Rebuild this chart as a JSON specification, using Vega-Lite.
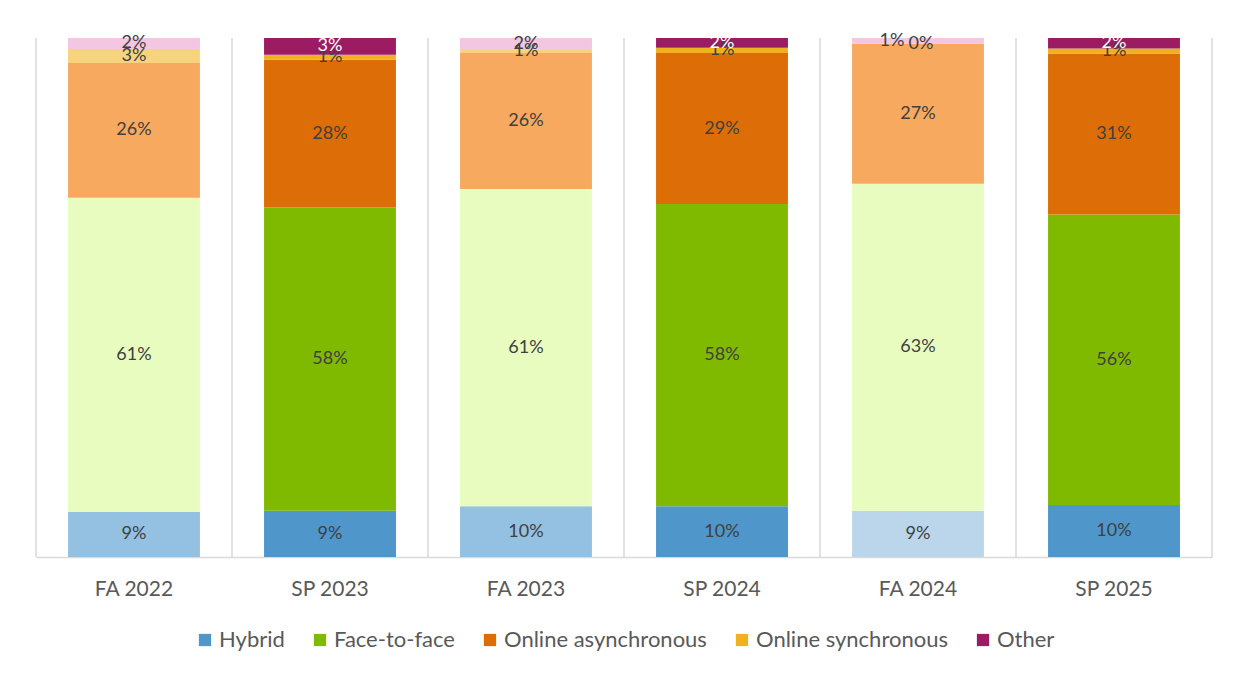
{
  "$schema": "https://vega.github.io/schema/vega-lite/v6.json",
  "width": 1176,
  "height": 519,
  "padding": {"left": 35, "top": 31, "right": 5, "bottom": 5},
  "background": "white",
  "config": {"view": {"stroke": null}, "font": "Lato"},
  "datasets": {
    "shares": [
      {"Term": "FA 2022", "Type": "Hybrid", "Rank": 1, "Shade": "light", "Value": 8.7},
      {"Term": "FA 2022", "Type": "Face-to-face", "Rank": 2, "Shade": "light", "Value": 60.5},
      {"Term": "FA 2022", "Type": "Online asynchronous", "Rank": 3, "Shade": "light", "Value": 26.0},
      {"Term": "FA 2022", "Type": "Online synchronous", "Rank": 4, "Shade": "light", "Value": 2.7},
      {"Term": "FA 2022", "Type": "Other", "Rank": 5, "Shade": "light", "Value": 2.1},
      {"Term": "SP 2023", "Type": "Hybrid", "Rank": 1, "Shade": "dark", "Value": 8.9},
      {"Term": "SP 2023", "Type": "Face-to-face", "Rank": 2, "Shade": "dark", "Value": 58.3},
      {"Term": "SP 2023", "Type": "Online asynchronous", "Rank": 3, "Shade": "dark", "Value": 28.4},
      {"Term": "SP 2023", "Type": "Online synchronous", "Rank": 4, "Shade": "dark", "Value": 1.0},
      {"Term": "SP 2023", "Type": "Other", "Rank": 5, "Shade": "dark", "Value": 3.2},
      {"Term": "FA 2023", "Type": "Hybrid", "Rank": 1, "Shade": "light", "Value": 9.8},
      {"Term": "FA 2023", "Type": "Face-to-face", "Rank": 2, "Shade": "light", "Value": 61.1},
      {"Term": "FA 2023", "Type": "Online asynchronous", "Rank": 3, "Shade": "light", "Value": 26.2},
      {"Term": "FA 2023", "Type": "Online synchronous", "Rank": 4, "Shade": "light", "Value": 0.6},
      {"Term": "FA 2023", "Type": "Other", "Rank": 5, "Shade": "light", "Value": 2.3},
      {"Term": "SP 2024", "Type": "Hybrid", "Rank": 1, "Shade": "dark", "Value": 9.8},
      {"Term": "SP 2024", "Type": "Face-to-face", "Rank": 2, "Shade": "dark", "Value": 58.2},
      {"Term": "SP 2024", "Type": "Online asynchronous", "Rank": 3, "Shade": "dark", "Value": 29.1},
      {"Term": "SP 2024", "Type": "Online synchronous", "Rank": 4, "Shade": "dark", "Value": 1.0},
      {"Term": "SP 2024", "Type": "Other", "Rank": 5, "Shade": "dark", "Value": 1.9},
      {"Term": "FA 2024", "Type": "Hybrid", "Rank": 1, "Shade": "lighter", "Value": 8.9},
      {"Term": "FA 2024", "Type": "Face-to-face", "Rank": 2, "Shade": "light", "Value": 63.0},
      {"Term": "FA 2024", "Type": "Online asynchronous", "Rank": 3, "Shade": "light", "Value": 27.0},
      {"Term": "FA 2024", "Type": "Online synchronous", "Rank": 4, "Shade": "light", "Value": 0.0},
      {"Term": "FA 2024", "Type": "Other", "Rank": 5, "Shade": "light", "Value": 1.1},
      {"Term": "SP 2025", "Type": "Hybrid", "Rank": 1, "Shade": "dark", "Value": 10.0},
      {"Term": "SP 2025", "Type": "Face-to-face", "Rank": 2, "Shade": "dark", "Value": 56.0},
      {"Term": "SP 2025", "Type": "Online asynchronous", "Rank": 3, "Shade": "dark", "Value": 31.0},
      {"Term": "SP 2025", "Type": "Online synchronous", "Rank": 4, "Shade": "dark", "Value": 1.0},
      {"Term": "SP 2025", "Type": "Other", "Rank": 5, "Shade": "dark", "Value": 2.0}
    ],
    "boundaries": [
      {"Boundary": 0}, {"Boundary": 1}, {"Boundary": 2}, {"Boundary": 3},
      {"Boundary": 4}, {"Boundary": 5}, {"Boundary": 6}
    ]
  },
  "resolve": {"scale": {"x": "independent"}},
  "layer": [
    {
      "data": {"name": "boundaries"},
      "mark": {"type": "rule", "color": "#D9D9D9", "strokeWidth": 1.5},
      "encoding": {
        "x": {"field": "Boundary", "type": "quantitative", "scale": {"domain": [0, 6], "nice": false, "zero": false}, "axis": null}
      }
    },
    {
      "data": {"name": "shares"},
      "transform": [
        {"joinaggregate": [{"op": "sum", "field": "Value", "as": "total"}], "groupby": ["Term"]},
        {"window": [{"op": "sum", "field": "Value", "as": "cum"}], "sort": [{"field": "Rank", "order": "ascending"}], "groupby": ["Term"], "frame": [null, 0]},
        {"calculate": "(datum.cum - datum.Value) / datum.total", "as": "y1"},
        {"calculate": "datum.cum / datum.total", "as": "y2"},
        {"calculate": "(datum.y1 + datum.y2) / 2", "as": "mid"},
        {"calculate": "datum.Value / datum.total", "as": "frac"},
        {"calculate": "datum.Shade == 'dark' ? datum.Type : datum.Type + ' ' + datum.Shade", "as": "Key"}
      ],
      "encoding": {
        "x": {
          "field": "Term",
          "type": "nominal",
          "sort": ["FA 2022", "SP 2023", "FA 2023", "SP 2024", "FA 2024", "SP 2025"],
          "scale": {"paddingInner": 0.327, "paddingOuter": 0.1635},
          "axis": {
            "title": null,
            "labelAngle": 0,
            "labelFontSize": 21,
            "labelColor": "#595959",
            "labelPadding": 21,
            "ticks": false,
            "grid": false,
            "domainColor": "#D9D9D9",
            "domainWidth": 1.5
          }
        }
      },
      "layer": [
        {
          "mark": {"type": "bar"},
          "encoding": {
            "y": {"field": "y1", "type": "quantitative", "scale": {"domain": [0, 1], "nice": false}, "axis": null},
            "y2": {"field": "y2"},
            "color": {
              "field": "Key",
              "type": "nominal",
              "scale": {
                "domain": ["Hybrid", "Face-to-face", "Online asynchronous", "Online synchronous", "Other", "Hybrid light", "Hybrid lighter", "Face-to-face light", "Online asynchronous light", "Online synchronous light", "Other light"],
                "range": ["#4F96CB", "#7FBA00", "#DD6E07", "#F0B121", "#9B1C62", "#94C1E2", "#BBD6EB", "#E8FCC0", "#F7A95F", "#F6D37E", "#F3C6E1"]
              },
              "legend": {
                "values": ["Hybrid", "Face-to-face", "Online asynchronous", "Online synchronous", "Other"],
                "title": null,
                "orient": "none",
                "legendX": 158,
                "legendY": 591,
                "direction": "horizontal",
                "symbolType": "square",
                "symbolSize": 150,
                "symbolStrokeWidth": 0,
                "labelFontSize": 22,
                "labelColor": "#595959",
                "labelOffset": 3,
                "labelLimit": 0,
                "columnPadding": 24
              }
            }
          }
        },
        {
          "transform": [{"filter": "!(datum.Term == 'FA 2024' && (datum.Type == 'Other' || datum.Type == 'Online synchronous'))"}],
          "mark": {"type": "text", "fontSize": 18, "baseline": "middle", "align": "center"},
          "encoding": {
            "y": {"field": "mid", "type": "quantitative"},
            "text": {"field": "frac", "type": "quantitative", "format": ".0%"},
            "color": {"condition": {"test": "datum.Type == 'Other' && datum.Shade == 'dark'", "value": "#FFFFFF"}, "value": "#404040"}
          }
        },
        {
          "transform": [{"filter": "datum.Term == 'FA 2024' && datum.Type == 'Other'"}],
          "mark": {"type": "text", "fontSize": 18, "baseline": "middle", "align": "center", "dx": -26, "color": "#404040"},
          "encoding": {
            "y": {"field": "mid", "type": "quantitative"},
            "text": {"field": "frac", "type": "quantitative", "format": ".0%"}
          }
        },
        {
          "transform": [{"filter": "datum.Term == 'FA 2024' && datum.Type == 'Online synchronous'"}],
          "mark": {"type": "text", "fontSize": 18, "baseline": "middle", "align": "center", "dx": 3, "color": "#404040"},
          "encoding": {
            "y": {"field": "mid", "type": "quantitative"},
            "text": {"field": "frac", "type": "quantitative", "format": ".0%"}
          }
        }
      ]
    }
  ]
}
